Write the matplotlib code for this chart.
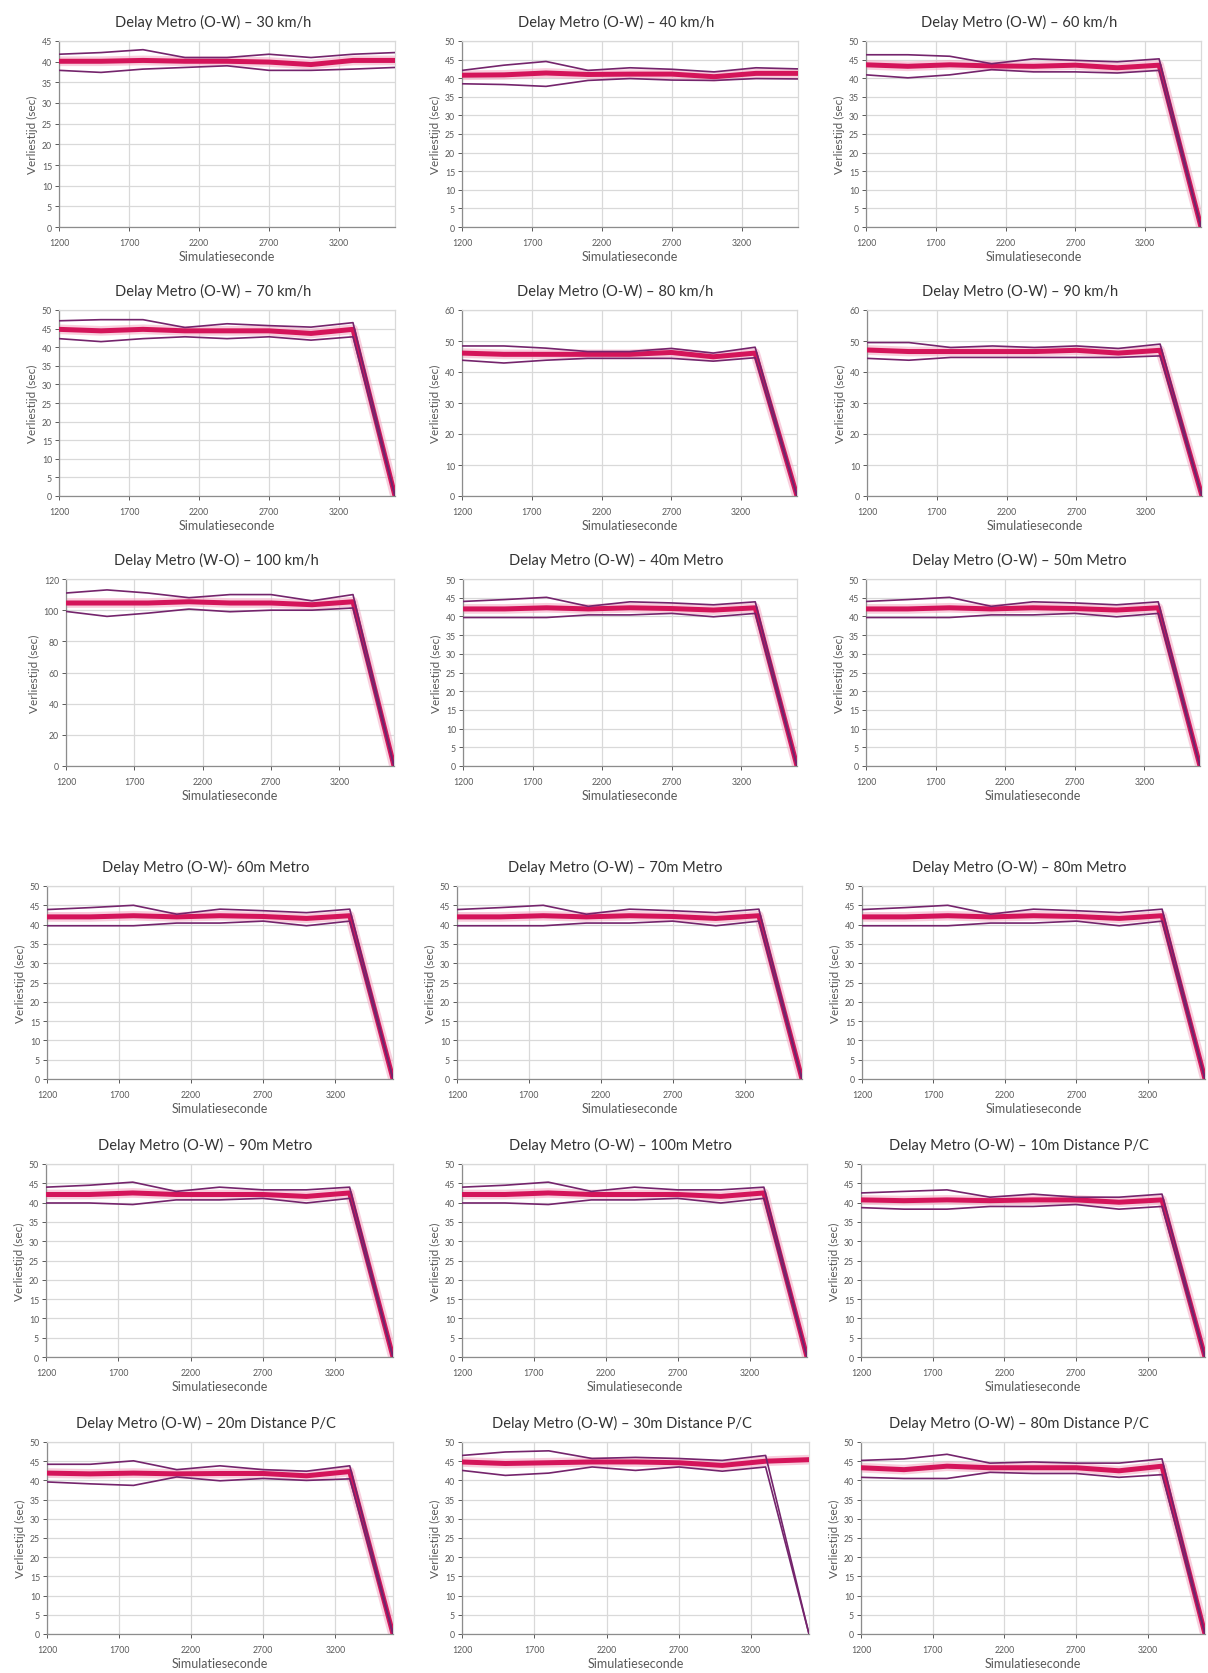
import matplotlib
matplotlib.use("Agg")
import matplotlib.pyplot as plt

plt.rcParams['font.family'] = ['Lato', 'DejaVu Sans']

# simulation seconds (x values)
seconds = [1200, 1500, 1800, 2100, 2400, 2700, 3000, 3300, 3600]

titles = [
    "Delay Metro (O-W) \u2013 30 km/h", "Delay Metro (O-W) \u2013 40 km/h", "Delay Metro (O-W) \u2013 60 km/h",
    "Delay Metro (O-W) \u2013 70 km/h", "Delay Metro (O-W) \u2013 80 km/h", "Delay Metro (O-W) \u2013 90 km/h",
    "Delay Metro (W-O) \u2013 100 km/h", "Delay Metro (O-W) \u2013 40m Metro", "Delay Metro (O-W) \u2013 50m Metro",
    "Delay Metro (O-W)- 60m Metro", "Delay Metro (O-W) \u2013 70m Metro", "Delay Metro (O-W) \u2013 80m Metro",
    "Delay Metro (O-W) \u2013 90m Metro", "Delay Metro (O-W) \u2013 100m Metro", "Delay Metro (O-W) \u2013 10m Distance P/C",
    "Delay Metro (O-W) \u2013 20m Distance P/C", "Delay Metro (O-W) \u2013 30m Distance P/C", "Delay Metro (O-W) \u2013 80m Distance P/C",
]

# upper bound / mean / lower bound per chart (sec)
hi_30 = [41.8, 42.2, 42.9, 41.0, 41.0, 41.8, 41.0, 41.8, 42.2]
avg_30 = [40.1, 40.1, 40.3, 40.1, 40.1, 39.9, 39.3, 40.3, 40.3]
lo_30 = [37.9, 37.4, 38.2, 38.6, 39.0, 37.9, 37.9, 38.2, 38.6]

hi_40 = [42.1, 43.5, 44.5, 42.1, 42.8, 42.4, 41.7, 42.8, 42.5]
avg_40 = [40.8, 40.9, 41.4, 41.0, 41.1, 41.1, 40.4, 41.3, 41.3]
lo_40 = [38.5, 38.3, 37.8, 39.4, 39.9, 39.5, 39.4, 39.9, 39.8]

hi_60 = [46.3, 46.3, 45.9, 43.9, 45.2, 44.8, 44.4, 45.2, 0]
avg_60 = [43.6, 43.2, 43.6, 43.3, 43.2, 43.5, 42.8, 43.5, 0]
lo_60 = [40.9, 40.1, 40.9, 42.3, 41.7, 41.7, 41.4, 42.1, 0]

hi_70 = [47.1, 47.4, 47.4, 45.3, 46.3, 45.8, 45.4, 46.6, 0]
avg_70 = [44.8, 44.4, 44.8, 44.4, 44.4, 44.4, 43.7, 44.8, 0]
lo_70 = [42.3, 41.5, 42.3, 42.8, 42.3, 42.8, 41.9, 42.8, 0]

hi_80 = [48.4, 48.4, 47.7, 46.6, 46.6, 47.6, 46.1, 48.0, 0]
avg_80 = [46.1, 45.7, 45.7, 45.7, 45.7, 46.3, 44.9, 46.1, 0]
lo_80 = [43.8, 42.9, 43.8, 44.4, 44.4, 44.4, 43.5, 44.6, 0]

hi_90 = [49.5, 49.5, 47.9, 48.4, 47.9, 48.4, 47.6, 49.0, 0]
avg_90 = [47.1, 46.6, 46.6, 46.6, 46.6, 47.0, 46.1, 47.0, 0]
lo_90 = [44.4, 43.8, 44.7, 44.7, 44.7, 44.7, 44.7, 45.2, 0]

hi_100 = [111, 113, 111, 108, 110, 110, 106, 110, 0]
avg_100 = [104.6, 104.6, 104.6, 105.4, 104.6, 104.6, 103.5, 105.4, 0]
lo_100 = [99.2, 96.0, 98.1, 100.7, 99.0, 100.0, 100.0, 101.4, 0]

hi_40m = [44.0, 44.5, 45.1, 42.7, 43.9, 43.6, 43.1, 43.9, 0]
avg_40m = [42.0, 42.0, 42.3, 42.0, 42.3, 42.1, 41.7, 42.3, 0]
lo_40m = [39.7, 39.7, 39.7, 40.4, 40.4, 40.8, 39.9, 40.8, 0]

hi_50m = [44.0, 44.5, 45.1, 42.7, 43.9, 43.6, 43.1, 43.9, 0]
avg_50m = [42.0, 42.0, 42.3, 42.0, 42.3, 42.1, 41.7, 42.3, 0]
lo_50m = [39.7, 39.7, 39.7, 40.4, 40.4, 40.8, 39.9, 40.8, 0]

hi_60m = [43.9, 44.4, 45.0, 42.7, 44.0, 43.6, 43.1, 44.0, 0]
avg_60m = [42.0, 42.0, 42.3, 42.0, 42.3, 42.1, 41.6, 42.3, 0]
lo_60m = [39.7, 39.7, 39.7, 40.4, 40.4, 40.9, 39.7, 40.9, 0]

hi_70m = [43.9, 44.4, 45.0, 42.7, 44.0, 43.6, 43.1, 44.0, 0]
avg_70m = [42.0, 42.0, 42.3, 42.0, 42.3, 42.1, 41.6, 42.3, 0]
lo_70m = [39.7, 39.7, 39.7, 40.4, 40.4, 40.9, 39.7, 40.9, 0]

hi_80m = [43.9, 44.4, 45.0, 42.7, 44.0, 43.6, 43.1, 44.0, 0]
avg_80m = [42.0, 42.0, 42.3, 42.0, 42.3, 42.1, 41.6, 42.3, 0]
lo_80m = [39.7, 39.7, 39.7, 40.4, 40.4, 40.9, 39.7, 40.9, 0]

hi_90m = [44.0, 44.5, 45.3, 42.9, 44.0, 43.3, 43.3, 44.0, 0]
avg_90m = [42.1, 42.1, 42.5, 42.1, 42.1, 42.1, 41.6, 42.5, 0]
lo_90m = [39.9, 39.9, 39.5, 40.7, 40.7, 41.1, 39.9, 41.1, 0]

hi_100m = [44.0, 44.5, 45.3, 42.9, 44.0, 43.3, 43.3, 44.0, 0]
avg_100m = [42.1, 42.1, 42.5, 42.1, 42.1, 42.1, 41.6, 42.5, 0]
lo_100m = [39.9, 39.9, 39.5, 40.7, 40.7, 41.1, 39.9, 41.1, 0]

hi_10pc = [42.5, 42.9, 43.3, 41.4, 42.2, 41.4, 41.4, 42.2, 0]
avg_10pc = [40.7, 40.5, 40.7, 40.5, 40.7, 40.7, 40.1, 40.7, 0]
lo_10pc = [38.7, 38.3, 38.3, 39.0, 39.0, 39.5, 38.3, 39.0, 0]

hi_20pc = [44.2, 44.2, 45.1, 42.8, 43.8, 42.8, 42.4, 43.8, 0]
avg_20pc = [41.9, 41.7, 41.9, 41.7, 41.8, 41.8, 41.2, 42.3, 0]
lo_20pc = [39.6, 39.1, 38.7, 40.9, 39.9, 40.5, 40.0, 40.4, 0]

hi_30pc = [46.5, 47.4, 47.7, 45.7, 46.0, 45.7, 45.2, 46.5, 0]
avg_30pc = [44.8, 44.4, 44.6, 44.8, 44.8, 44.6, 43.9, 45.0, 45.4]
lo_30pc = [42.6, 41.3, 41.9, 43.5, 42.6, 43.5, 42.4, 43.5, 0]

hi_80pc = [45.2, 45.6, 46.8, 44.5, 44.8, 44.5, 44.5, 45.6, 0]
avg_80pc = [43.3, 42.8, 43.7, 43.3, 43.3, 43.3, 42.5, 43.7, 0]
lo_80pc = [40.8, 40.5, 40.5, 42.1, 41.8, 41.8, 40.8, 41.5, 0]

series = [
    (hi_30, avg_30, lo_30), (hi_40, avg_40, lo_40), (hi_60, avg_60, lo_60),
    (hi_70, avg_70, lo_70), (hi_80, avg_80, lo_80), (hi_90, avg_90, lo_90),
    (hi_100, avg_100, lo_100), (hi_40m, avg_40m, lo_40m), (hi_50m, avg_50m, lo_50m),
    (hi_60m, avg_60m, lo_60m), (hi_70m, avg_70m, lo_70m), (hi_80m, avg_80m, lo_80m),
    (hi_90m, avg_90m, lo_90m), (hi_100m, avg_100m, lo_100m), (hi_10pc, avg_10pc, lo_10pc),
    (hi_20pc, avg_20pc, lo_20pc), (hi_30pc, avg_30pc, lo_30pc), (hi_80pc, avg_80pc, lo_80pc),
]

# y axis max and step per chart
y_max = [45, 50, 50, 50, 60, 60, 120, 50, 50, 50, 50, 50, 50, 50, 50, 50, 50, 50]
y_step = [5, 5, 5, 5, 10, 10, 20, 5, 5, 5, 5, 5, 5, 5, 5, 5, 5, 5]

# plot boxes in pixels: left, right, top, bottom
boxes = [
    (59, 395, 42, 228), (462, 798, 42, 228), (866, 1201, 42, 228),
    (59, 395, 311, 497), (462, 797, 311, 497), (867, 1202, 311, 497),
    (66, 394, 580, 767), (463, 797, 580, 767), (866, 1200, 580, 767),
    (47, 393, 887, 1080), (457, 802, 887, 1080), (862, 1205, 887, 1080),
    (46, 393, 1165, 1358), (462, 807, 1165, 1358), (861, 1205, 1165, 1358),
    (47, 393, 1443, 1635), (462, 809, 1443, 1635), (861, 1205, 1443, 1635),
]

W, H = 1208, 1674
fig = plt.figure(figsize=(W / 100, H / 100), dpi=100)

for i in range(18):
    l, r, t, b = boxes[i]
    ax = fig.add_axes([l / W, 1 - b / H, (r - l) / W, (b - t) / H])
    hi, avg, lo = series[i]

    # mean with a soft pink glow, bounds drawn over it
    ax.plot(seconds, avg, color='#f3a6c2', lw=7, alpha=0.55, solid_capstyle='butt', zorder=2)
    ax.plot(seconds, avg, color='#d4145a', lw=3.6, zorder=3)
    ax.plot(seconds, hi, color='#74246c', lw=1.2, zorder=4)
    ax.plot(seconds, lo, color='#74246c', lw=1.2, zorder=4)

    ax.set_xlim(1200, 3600)
    ax.set_ylim(0, y_max[i])
    ax.set_xticks([1200, 1700, 2200, 2700, 3200])
    ax.set_yticks(range(0, y_max[i] + 1, y_step[i]))
    ax.grid(True, color='#d9d9d9', lw=0.9)
    ax.set_axisbelow(True)
    for s in ['top', 'right']:
        ax.spines[s].set_color('#d9d9d9')
        ax.spines[s].set_linewidth(0.9)
    for s in ['left', 'bottom']:
        ax.spines[s].set_color('#8c8c8c')
        ax.spines[s].set_linewidth(0.9)
    ax.tick_params(labelsize=6.3, colors='#595959', length=3, width=0.7, pad=2)
    ax.tick_params(axis='x', pad=5)

    ax.set_title(titles[i], fontsize=10.5, color='#333333', pad=11, x=0.5 - 14 / (r - l))
    ax.set_xlabel("Simulatieseconde", fontsize=9, color='#595959', labelpad=2)
    ax.set_ylabel("Verliestijd (sec)", fontsize=8.5, color='#595959', labelpad=3)

fig.savefig("out.png", dpi=100, facecolor='white')
